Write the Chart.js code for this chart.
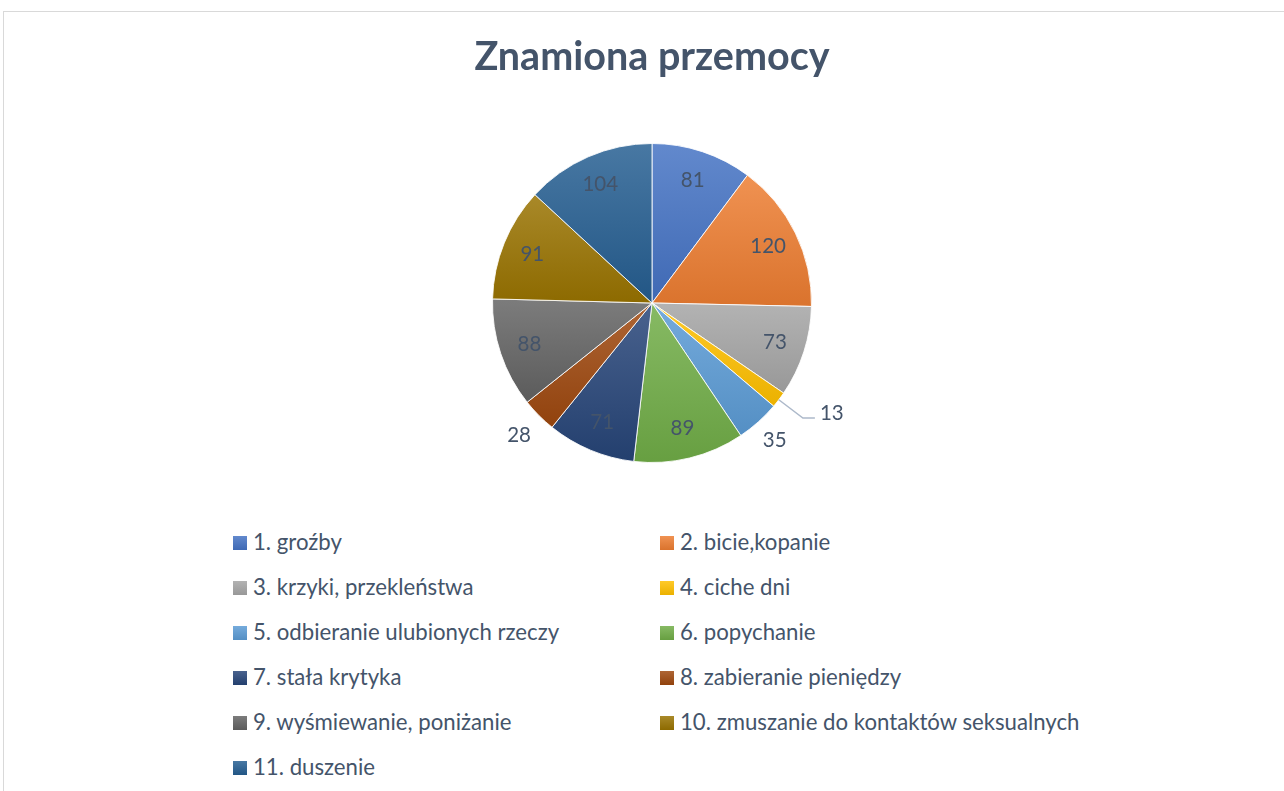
<!DOCTYPE html>
<html>
<head>
<meta charset="utf-8">
<script src="https://cdn.jsdelivr.net/npm/chart.js@4.4.0/dist/chart.umd.min.js"></script>
<style>
  html, body { margin: 0; padding: 0; background: #fff; overflow: hidden; }
  body { width: 1284px; height: 791px; position: relative; font-family: Lato, sans-serif; }
  #frame { position: absolute; left: 3px; top: 11px; width: 1400px; height: 900px; border: 1px solid #D9D9D9; box-sizing: border-box; }
  #wrap { position: absolute; left: 10px; top: 0; width: 1284px; height: 480px; }
  #legend { position: absolute; left: 233px; top: 519px; display: grid; grid-template-columns: 427px auto; color: #44546A; font-size: 22.2px; }
  .item { height: 45px; line-height: 45px; white-space: nowrap; }
  .box { display: inline-block; width: 14px; height: 14px; margin-right: 6px; vertical-align: middle; position: relative; top: -1px; }
</style>
</head>
<body>
<div id="frame"></div>
<div id="wrap"><canvas id="chart" width="1284" height="480"></canvas></div>
<div id="legend"></div>
<script>
const chartTitle = 'Znamiona przemocy';
const categories = [
    '1. groźby',
    '2. bicie,kopanie',
    '3. krzyki, przekleństwa',
    '4. ciche dni',
    '5. odbieranie ulubionych rzeczy',
    '6. popychanie',
    '7. stała krytyka',
    '8. zabieranie pieniędzy',
    '9. wyśmiewanie, poniżanie',
    '10. zmuszanie do kontaktów seksualnych',
    '11. duszenie'
];
const values = [81, 120, 73, 13, 35, 89, 71, 28, 88, 91, 104];
const baseColors = ['#4472C4', '#ED7D31', '#A5A5A5', '#FFC000', '#5B9BD5', '#70AD47',
                    '#264478', '#9E480E', '#636363', '#997300', '#255E91'];

// labels that sit outside the pie (index -> radius factor)
const outsideLabels = { 3: { r: 1.19, leader: true }, 4: { r: 1.155 }, 7: { r: 1.175 } };

function mix(hex, target, t) {
    const a = parseInt(hex.slice(1), 16), b = parseInt(target.slice(1), 16);
    const ch = s => [(s >> 16) & 255, (s >> 8) & 255, s & 255];
    const ca = ch(a), cb = ch(b);
    return 'rgb(' + ca.map((v, i) => Math.round(v + (cb[i] - v) * t)).join(',') + ')';
}
const tint = c => mix(c, '#ffffff', 0.16);
const shade = c => mix(c, '#000000', 0.08);

// top-to-bottom gradient over each slice's own height
function sliceFill(c) {
    const chart = c.chart, area = chart.chartArea;
    const base = baseColors[c.dataIndex];
    if (!area) return base;
    const cx = (area.left + area.right) / 2, cy = (area.top + area.bottom) / 2;
    const R = Math.min(area.right - area.left, area.bottom - area.top) / 2;
    const data = c.dataset.data;
    const total = data.reduce((s, v) => s + v, 0);
    let before = 0;
    for (let k = 0; k < c.dataIndex; k++) before += data[k];
    const a0 = -Math.PI / 2 + before / total * 2 * Math.PI;
    const a1 = a0 + data[c.dataIndex] / total * 2 * Math.PI;
    const ys = [cy, cy + R * Math.sin(a0), cy + R * Math.sin(a1)];
    [-Math.PI / 2, Math.PI / 2, 3 * Math.PI / 2].forEach(a => {
        if (a > a0 && a < a1) ys.push(cy + R * Math.sin(a));
    });
    const g = chart.ctx.createLinearGradient(0, Math.min(...ys), 0, Math.max(...ys) + 0.01);
    g.addColorStop(0, tint(base));
    g.addColorStop(1, shade(base));
    return g;
}

const valueLabels = {
    id: 'valueLabels',
    afterDatasetsDraw(chart) {
        const ctx = chart.ctx;
        const meta = chart.getDatasetMeta(0);
        ctx.save();
        ctx.font = '20.5px Lato';
        ctx.fillStyle = '#44546A';
        ctx.textBaseline = 'middle';
        meta.data.forEach((arc, i) => {
            const p = arc.getProps(['x', 'y', 'startAngle', 'endAngle', 'outerRadius'], true);
            const mid = (p.startAngle + p.endAngle) / 2;
            const cos = Math.cos(mid), sin = Math.sin(mid);
            const text = String(chart.data.datasets[0].data[i]);
            const o = outsideLabels[i];
            if (o && o.leader) {
                const ex = p.x + cos * p.outerRadius, ey = p.y + sin * p.outerRadius;
                const bx = p.x + cos * p.outerRadius * o.r, by = p.y + sin * p.outerRadius * o.r;
                ctx.strokeStyle = '#ADB9CA';
                ctx.lineWidth = 1.5;
                ctx.beginPath();
                ctx.moveTo(ex, ey);
                ctx.lineTo(bx, by);
                ctx.lineTo(bx + 12, by);
                ctx.stroke();
                ctx.textAlign = 'left';
                ctx.fillText(text, bx + 17, by - 5);
            } else {
                const r = p.outerRadius * (o ? o.r : 0.81);
                ctx.textAlign = 'center';
                ctx.fillText(text, p.x + cos * r, p.y + sin * r);
            }
        });
        ctx.restore();
    }
};

const chart = new Chart(document.getElementById('chart'), {
    type: 'pie',
    data: {
        labels: categories,
        datasets: [{
            data: values,
            backgroundColor: sliceFill,
            borderColor: 'rgba(255,255,255,0.85)',
            borderWidth: 1,
            hoverOffset: 0
        }]
    },
    options: {
        responsive: false,
        animation: false,
        events: [],
        layout: { padding: { bottom: 17 } },
        plugins: {
            legend: { display: false },
            tooltip: { enabled: false },
            title: {
                display: true,
                text: chartTitle,
                color: '#44546A',
                font: { family: 'Lato', size: 39.5, weight: 'bold', lineHeight: 1.2 },
                padding: { top: 34, bottom: 61.6 }
            }
        }
    },
    plugins: [valueLabels]
});

// two-column legend built from the chart data
const legend = document.getElementById('legend');
chart.data.labels.forEach((label, i) => {
    const item = document.createElement('div');
    item.className = 'item';
    const box = document.createElement('span');
    box.className = 'box';
    box.style.background = 'linear-gradient(to bottom, ' + tint(baseColors[i]) + ', ' + shade(baseColors[i]) + ')';
    item.appendChild(box);
    item.appendChild(document.createTextNode(label));
    legend.appendChild(item);
});
</script>
</body>
</html>
